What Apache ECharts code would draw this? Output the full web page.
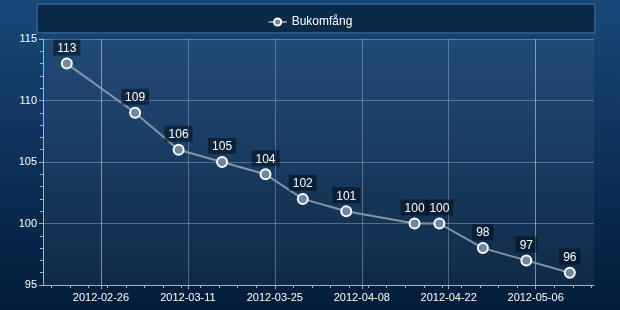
<!DOCTYPE html>
<html><head><meta charset="utf-8">
<script src="https://cdn.jsdelivr.net/npm/echarts@6/dist/echarts.min.js"></script>
<style>html,body{margin:0;padding:0;background:#0a2a50}#c{width:620px;height:310px}</style>
</head><body><div id="c"></div>
<script>
const seriesName = 'Bukomfång';
const dates = ['2012-02-20 12:00', '2012-03-02 12:00', '2012-03-09 12:00', '2012-03-16 12:00', '2012-03-23 12:00', '2012-03-29 12:00', '2012-04-05 12:00', '2012-04-16 12:00', '2012-04-20 12:00', '2012-04-27 12:00', '2012-05-04 12:00', '2012-05-11 12:00'];
const values = [113, 109, 106, 105, 104, 102, 101, 100, 100, 98, 97, 96];
const xTickDates = ['2012-02-26', '2012-03-11', '2012-03-25', '2012-04-08', '2012-04-22', '2012-05-06'];
const xMinorTickDates = ['2012-02-18', '2012-02-21', '2012-02-24', '2012-02-27', '2012-03-01', '2012-03-04', '2012-03-07', '2012-03-10', '2012-03-13', '2012-03-16', '2012-03-19', '2012-03-22', '2012-03-25', '2012-03-28', '2012-03-31', '2012-04-03', '2012-04-06', '2012-04-09', '2012-04-12', '2012-04-15', '2012-04-18', '2012-04-21', '2012-04-24', '2012-04-27', '2012-04-30', '2012-05-03', '2012-05-06', '2012-05-09', '2012-05-12', '2012-05-15'];
const xRange = ['2012-02-16 16:00', '2012-05-15 09:30'];
const yRange = [95, 115];
const yInterval = 5;

const ts = s => echarts.time.parse(s).getTime();
const chart = echarts.init(document.getElementById('c'), null, {renderer: 'canvas'});
const font = '"Liberation Sans", Arial, sans-serif';
const xMin = ts(xRange[0]), xMax = ts(xRange[1]);

chart.setOption({
  animation: false,
  backgroundColor: {type: 'linear', x: 0, y: 0, x2: 0, y2: 1, colorStops: [{offset: 0, color: '#184878'}, {offset: 1, color: '#021c3a'}]},
  textStyle: {fontFamily: font},
  graphic: [{
    type: 'rect', z: -1,
    shape: {x: 37, y: 4, width: 558, height: 29},
    style: {fill: '#0b2949', stroke: '#2c5785', lineWidth: 2}
  }],
  legend: {
    top: 11, left: 'center',
    itemWidth: 18, itemHeight: 9, itemGap: 10,
    textStyle: {color: '#ffffff', fontSize: 12, fontFamily: font},
    data: [seriesName]
  },
  grid: {left: 43, right: 26, top: 39, bottom: 25, show: true, backgroundColor: 'rgba(255,255,255,0.05)', borderWidth: 0},
  xAxis: [{
    type: 'time', min: xMin, max: xMax, position: 'bottom',
    axisLine: {show: true, lineStyle: {color: '#9fb3c8', width: 1}},
    axisTick: {show: true, length: 4, customValues: xTickDates.map(ts), lineStyle: {color: '#9fb3c8'}},
    axisLabel: {customValues: xTickDates.map(ts), formatter: '{yyyy}-{MM}-{dd}', color: '#ffffff', fontSize: 11, fontFamily: font, margin: 7},
    splitLine: {show: true, lineStyle: {color: 'rgba(200,215,235,0.35)', width: 1}}
  }, {
    type: 'time', min: xMin, max: xMax, position: 'bottom',
    axisLine: {show: false},
    axisTick: {show: true, length: 3, customValues: xMinorTickDates.map(ts), lineStyle: {color: '#9fb3c8'}},
    axisLabel: {show: false},
    splitLine: {show: false}
  }],
  yAxis: {
    type: 'value', min: yRange[0], max: yRange[1], interval: yInterval,
    axisLine: {show: true, lineStyle: {color: '#9fb3c8', width: 1}},
    axisTick: {show: true, length: 4, lineStyle: {color: '#9fb3c8'}},
    minorTick: {show: true, splitNumber: 5, length: 3, lineStyle: {color: '#9fb3c8'}},
    axisLabel: {color: '#ffffff', fontSize: 11, fontFamily: font, margin: 6},
    splitLine: {show: true, lineStyle: {color: 'rgba(200,215,235,0.35)', width: 1}}
  },
  series: [{
    name: seriesName, type: 'line', xAxisIndex: 0,
    data: dates.map((d, i) => [ts(d), values[i]]),
    symbol: 'circle', symbolSize: 10,
    lineStyle: {color: '#8594a8', width: 2},
    itemStyle: {color: '#72869f', borderColor: '#ffffff', borderWidth: 2},
    label: {
      show: true, position: 'top', distance: 2,
      color: '#ffffff', fontSize: 12, fontFamily: font,
      backgroundColor: 'rgba(0,12,30,0.55)', padding: [3, 4, 1, 4]
    }
  }]
});
</script>
</body></html>
